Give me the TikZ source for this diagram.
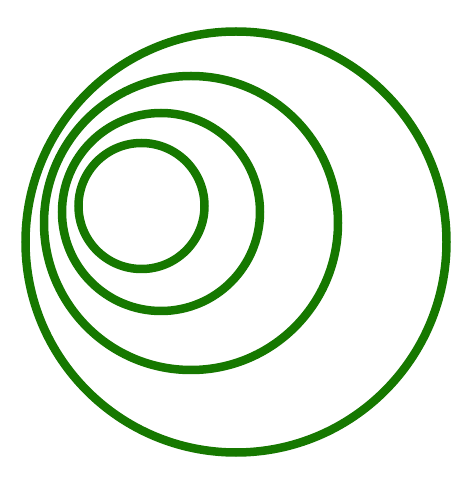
\documentclass[tikz,border=0pt]{standalone}
\usepackage{tikz}
\definecolor{ringgreen}{RGB}{22,120,0}
\tikzset{ring/.style={line width=8.5pt, color=ringgreen}}

\begin{document}
\begin{tikzpicture}[x=1pt, y=1pt]
		%%%%% START %%%%%
		
		\useasboundingbox (0, 0) rectangle (475, 485);
		
		\draw [ring](236, 243) circle (210.5);
		\draw [ring](191, 262) circle (147);
		\draw [ring](161, 273) circle (99);
		\draw [ring](141.5, 279) circle (63);
		
		%%%%% END %%%%%
	\end{tikzpicture}
\end{document}
